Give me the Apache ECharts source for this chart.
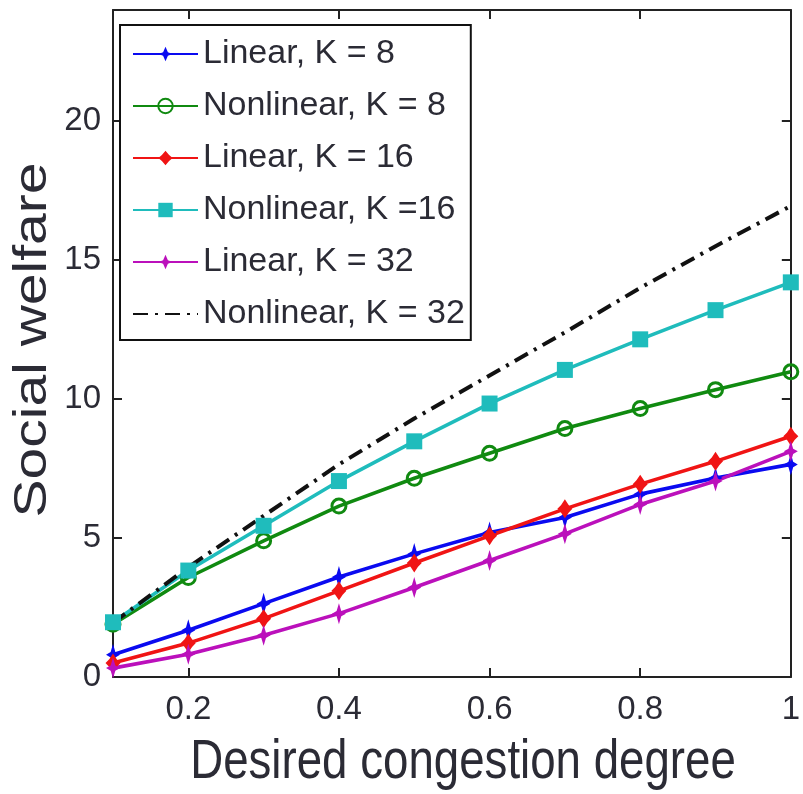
<!DOCTYPE html>
<html><head><meta charset="utf-8">
<script src="https://cdn.jsdelivr.net/npm/echarts@6/dist/echarts.min.js"></script>
<style>html,body{margin:0;padding:0;background:#fff}#c{width:803px;height:794px}</style>
</head><body><div id="c"></div>
<script>
const xValues = [0.1, 0.2, 0.3, 0.4, 0.5, 0.6, 0.7, 0.8, 0.9, 1.0];
const linearK8 = [0.8, 1.68, 2.64, 3.6, 4.43, 5.2, 5.74, 6.58, 7.16, 7.65];
const nonlinearK8 = [1.9, 3.58, 4.9, 6.15, 7.15, 8.05, 8.94, 9.66, 10.34, 10.98];
const linearK16 = [0.5, 1.22, 2.1, 3.1, 4.1, 5.08, 6.05, 6.94, 7.76, 8.66];
const nonlinearK16 = [1.97, 3.83, 5.44, 7.05, 8.48, 9.84, 11.05, 12.15, 13.2, 14.2];
const linearK32 = [0.32, 0.82, 1.5, 2.28, 3.22, 4.19, 5.15, 6.21, 7.05, 8.12];
const nonlinearK32 = [1.95, 3.95, 5.8, 7.65, 9.3, 10.85, 12.4, 14.0, 15.5, 16.95];
const seriesNames = ['Linear, K = 8', 'Nonlinear, K = 8', 'Linear, K = 16', 'Nonlinear, K =16', 'Linear, K = 32', 'Nonlinear, K = 32'];
const xTicks = [0.2, 0.4, 0.6, 0.8, 1];
const yTicks = [0, 5, 10, 15, 20];
const xTitle = 'Desired congestion degree';
const yTitle = 'Social welfare';

const FONT = '"Liberation Sans", Arial, Helvetica, sans-serif';
const TXT = '#2b2b35';
const star = 'path://M0,-12 L3,-3 L9,0 L3,3 L0,12 L-3,3 L-9,0 L-3,-3 Z';
const blob = 'path://M0,-10 L4,-4 L8,0 L4,4 L0,10 L-4,4 L-8,0 L-4,-4 Z';

function pts(arr){ return xValues.map((x,i)=>[x, arr[i]]); }
function mk(name, data, color, symbol, size, extra){
  return Object.assign({
    name, type:'line', data: pts(data), xAxisIndex:0, yAxisIndex:0,
    symbol, symbolSize:size, showSymbol: symbol!=='none',
    lineStyle:{color, width:3.6}, itemStyle:{color},
    animation:false, silent:true
  }, extra||{});
}

const chart = echarts.init(document.getElementById('c'), null, {renderer:'canvas'});
const axisCommon = {
  type:'value', axisLine:{show:true, onZero:false, lineStyle:{color:'#222', width:2}},
  splitLine:{show:false},
  axisTick:{show:true, inside:true, length:9, lineStyle:{color:'#222', width:2}},
};
chart.setOption({
  animation:false,
  backgroundColor:'#fff',
  grid:{left:113, right:4, top:10, bottom:117, containLabel:false},
  xAxis:[
    Object.assign({}, axisCommon, {min:0.1, max:1, position:'bottom',
      axisTick:Object.assign({}, axisCommon.axisTick, {customValues:xTicks}),
      axisLabel:{customValues:xTicks, margin:16, fontSize:33, lineHeight:33, fontFamily:FONT, color:TXT,
        formatter:v=> (Math.round(v*10)/10).toString()}}),
    Object.assign({}, axisCommon, {min:0.1, max:1, position:'top',
      axisTick:Object.assign({}, axisCommon.axisTick, {customValues:xTicks}),
      axisLabel:{show:false}})
  ],
  yAxis:[
    Object.assign({}, axisCommon, {min:0, max:24, position:'left',
      axisTick:Object.assign({}, axisCommon.axisTick, {customValues:yTicks}),
      axisLabel:{customValues:yTicks, margin:12, fontSize:33, fontFamily:FONT, color:TXT}}),
    Object.assign({}, axisCommon, {min:0, max:24, position:'right',
      axisTick:Object.assign({}, axisCommon.axisTick, {customValues:yTicks}),
      axisLabel:{show:false}})
  ],
  legend:{
    orient:'vertical', left:120, top:25,
    padding:[9,6,6,12],
    itemWidth:65, itemHeight:18, itemGap:12, itemTextGap:8,
    borderColor:'#111', borderWidth:2, backgroundColor:'#fff',
    textStyle:{fontSize:34, lineHeight:40, fontFamily:FONT, color:TXT},
    data:seriesNames.map((n,i)=> i===5 ? {name:n, itemStyle:{color:'rgba(0,0,0,0)', borderColor:'rgba(0,0,0,0)'}} : {name:n})
  },
  graphic:[{
    type:'text', x:33, y:340, rotation:Math.PI/2, scaleX:1.24,
    style:{text:yTitle, font:'46px "Liberation Sans", Arial, sans-serif', fill:TXT, align:'center', verticalAlign:'middle'}
  },{
    type:'text', x:463, y:763, scaleX:0.83,
    style:{text:xTitle, font:'55px "Liberation Sans", Arial, sans-serif', fill:TXT, align:'center', verticalAlign:'middle'}
  }],
  series:[
    mk(seriesNames[0], linearK8, '#0a0af0', star, [14,22]),
    mk(seriesNames[1], nonlinearK8, '#108a10', 'circle', 14, {itemStyle:{color:'rgba(255,255,255,0)', borderColor:'#108a10', borderWidth:3}}),
    mk(seriesNames[2], linearK16, '#f01414', blob, [15,19]),
    mk(seriesNames[3], nonlinearK16, '#1fbcbc', 'rect', 16),
    mk(seriesNames[4], linearK32, '#bb10bb', star, [14,21]),
    mk(seriesNames[5], nonlinearK32, '#111', 'none', 0, {lineStyle:{color:'#111', width:4, type:[15,7,3,7]}})
  ]
});
</script></body></html>
